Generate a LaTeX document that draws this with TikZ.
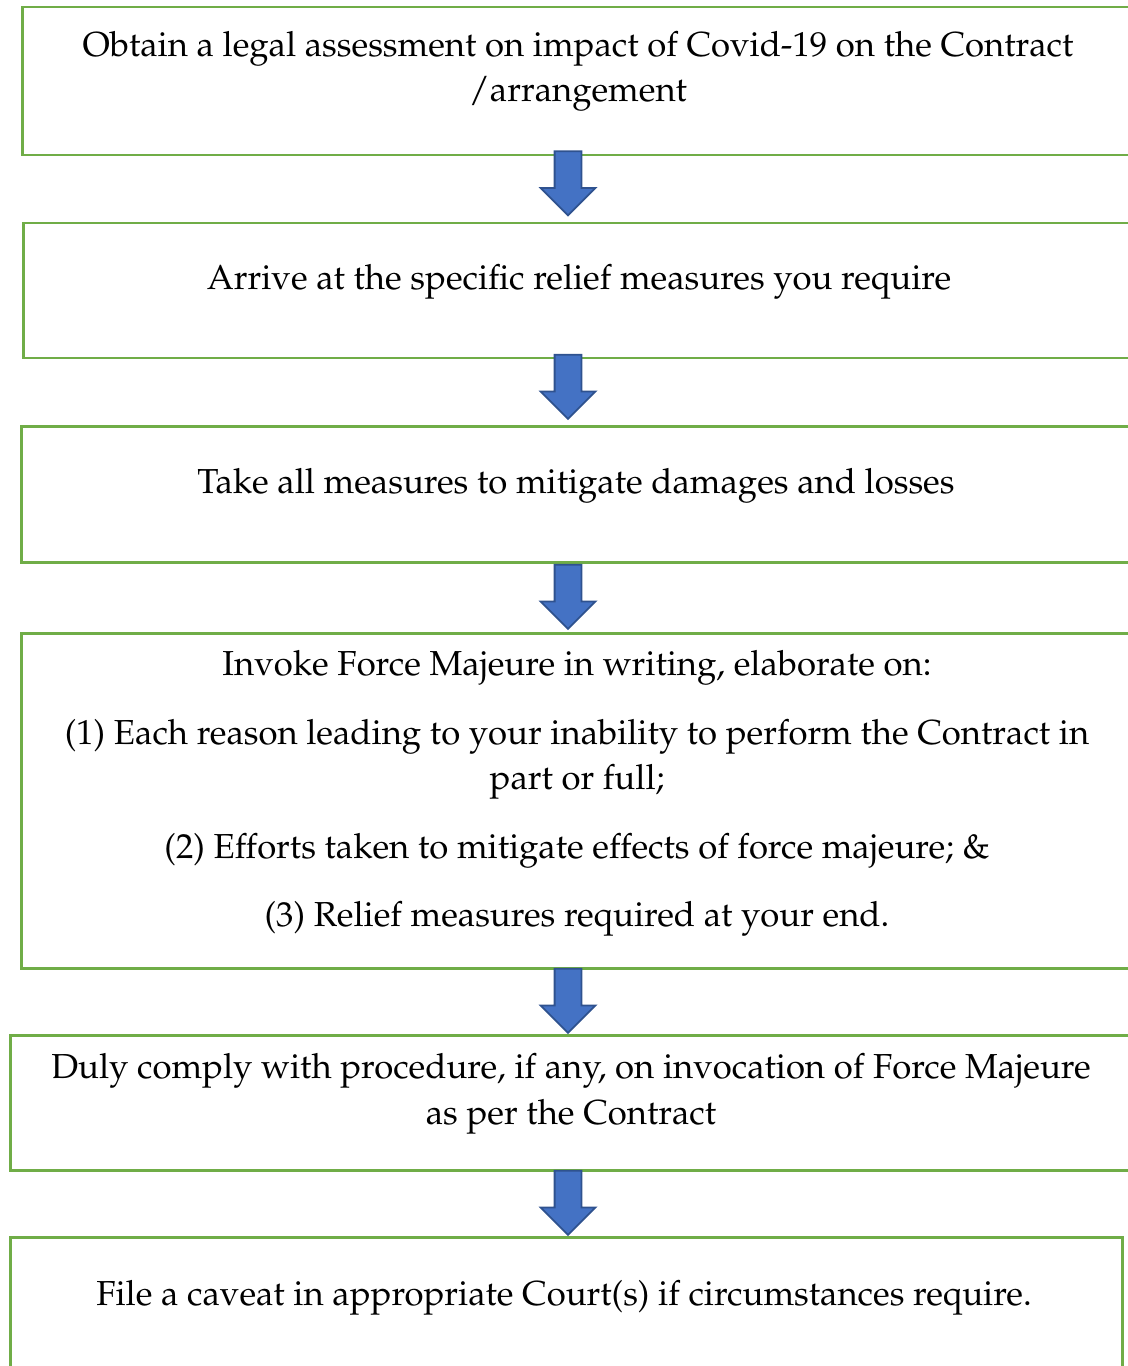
\documentclass[tikz,border=0pt]{standalone}
\usepackage[T1]{fontenc}
\usepackage{mathpazo}
\usepackage{xcolor}
\usetikzlibrary{shapes.arrows}
\definecolor{box-green}{HTML}{70AD47}
\definecolor{arrow-blue}{HTML}{4472C4}
\definecolor{arrow-edge}{HTML}{2F528F}

\begin{document}
\begin{tikzpicture}[every node/.style={font=\fontsize{19.75}{25.9}\selectfont},
    stepbox/.style={draw=box-green, line width=1.7pt, anchor=north west, inner sep=0pt},
    steptext/.style={align=center, inner sep=0pt},
    downarrow/.style={single arrow, draw=arrow-edge, fill=arrow-blue, line width=1pt,
      shape border rotate=270, inner sep=0.25cm, single arrow head extend=0.28cm,
      minimum height=1.28cm, minimum width=1.06cm, anchor=tip}]
      \useasboundingbox (0,0) rectangle (22.56,-27.32);
      \clip (0,0) rectangle (22.56,-27.32);
      % boxes
      \node[stepbox, minimum width=22.4cm, minimum height=2.96cm] (b1) at (0.42, -0.11) {};
      \node[stepbox, minimum width=22.4cm, minimum height=2.70cm] (b2) at (0.44, -4.43) {};
      \node[stepbox, minimum width=22.4cm, minimum height=2.71cm] (b3) at (0.40, -8.50) {};
      \node[stepbox, minimum width=22.4cm, minimum height=6.70cm] (b4) at (0.40, -12.64) {};
      \node[stepbox, minimum width=22.8cm, minimum height=2.70cm] (b5) at (0.18, -20.68) {};
      \node[stepbox, minimum width=22.24cm, minimum height=3.20cm] (b6) at (0.18, -24.72) {};
      % texts
      \node[steptext] (t1) at (11.56, -1.43) {Obtain a legal assessment on impact of Covid-19 on the Contract\\/arrangement};
      \node[steptext] (t2) at (11.58, -5.64) {Arrive at the specific relief measures you require};
      \node[steptext] (t3) at (11.52, -9.72) {Take all measures to mitigate damages and losses};
      \node[steptext] (t4) at (11.54, -15.87) {Invoke Force Majeure in writing, elaborate on:\\[0.46cm]
        (1) Each reason leading to your inability to perform the Contract in\\part or full;\\[0.46cm]
        (2) Efforts taken to mitigate effects of force majeure; \&\\[0.46cm]
        (3) Relief measures required at your end.};
      \node[steptext] (t5) at (11.42, -21.88) {Duly comply with procedure, if any, on invocation of Force Majeure\\as per the Contract};
      \node[steptext] (t6) at (11.28, -25.96) {File a caveat in appropriate Court(s) if circumstances require.};
      % arrows
      \node[downarrow, yshift=0.1cm] (a1) at (11.36,0 |- b2.north) {};
      \node[downarrow, yshift=0.1cm] (a2) at (11.36,0 |- b3.north) {};
      \node[downarrow, yshift=0.04cm] (a3) at (11.36,0 |- b4.north) {};
      \node[downarrow] (a4) at (11.36,0 |- b5.north) {};
      \node[downarrow] (a5) at (11.36,0 |- b6.north) {};
    \end{tikzpicture}
\end{document}
